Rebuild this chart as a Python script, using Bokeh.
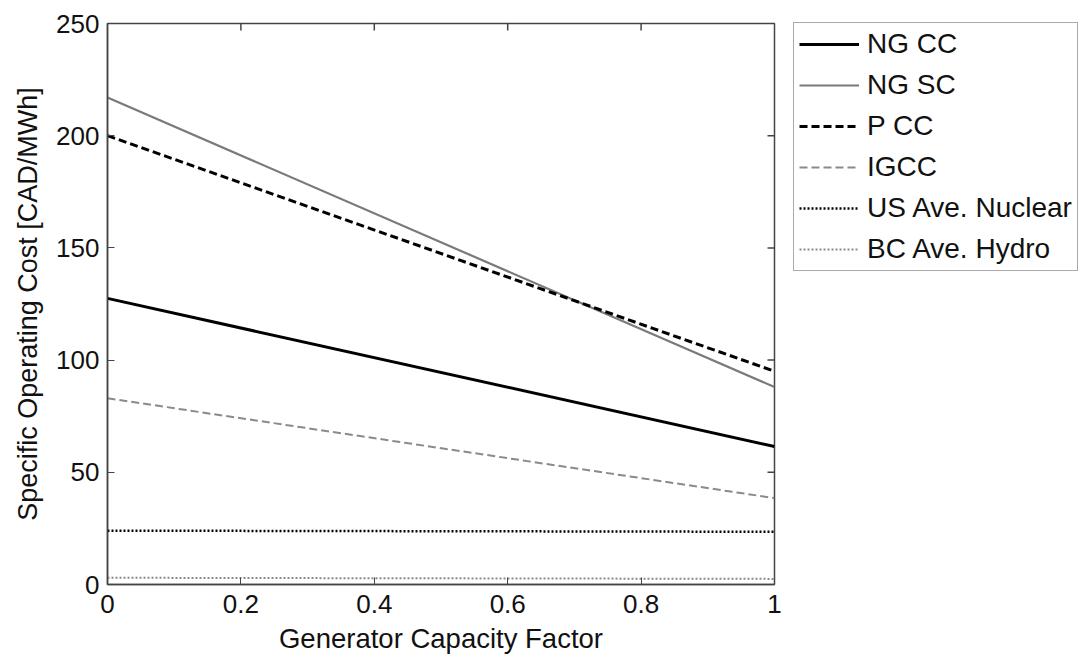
import math
from bokeh.plotting import figure
from bokeh.models import Legend, LegendItem, FixedTicker, Range1d
from bokeh.embed import file_html
from bokeh.resources import INLINE

# Data
capacity_factor = [0.0, 1.0]
ng_cc = [127.5, 61.5]
ng_sc = [217.0, 88.0]
p_cc = [200.0, 95.0]
igcc = [83.0, 38.5]
us_nuclear = [24.0, 23.5]
bc_hydro = [3.0, 2.5]

x_ticks = [0, 0.2, 0.4, 0.6, 0.8, 1.0]
y_ticks = [0, 50, 100, 150, 200, 250]
x_label = "Generator Capacity Factor"
y_label = "Specific Operating Cost [CAD/MWh]"

FONT = "Liberation Sans"
X_MIN, X_MAX = 0, 1
Y_MIN, Y_MAX = 0, 250

p = figure(width=1084, height=656, output_backend="svg", toolbar_location=None,
           x_range=Range1d(X_MIN, X_MAX), y_range=Range1d(Y_MIN, Y_MAX),
           min_border_left=107, min_border_right=0, min_border_top=23, min_border_bottom=72)
p.frame_width = 667
p.frame_height = 561
p.grid.visible = False
p.outline_line_color = "#444444"
p.outline_line_width = 1.5
p.background_fill_color = "white"
p.border_fill_color = "white"

r1 = p.line(capacity_factor, ng_cc, line_color="black", line_width=3)
r2 = p.line(capacity_factor, ng_sc, line_color="#7a7a7a", line_width=2.2)
r3 = p.line(capacity_factor, p_cc, line_color="black", line_width=3, line_dash="8 4")
r4 = p.line(capacity_factor, igcc, line_color="#8a8a8a", line_width=2, line_dash="8 4")
r5 = p.line(capacity_factor, us_nuclear, line_color="black", line_width=2.5, line_dash="2 2")
r6 = p.line(capacity_factor, bc_hydro, line_color="#8a8a8a", line_width=2, line_dash="2 2")

# inward ticks on top and right edges (half of each dash marker is clipped by the frame)
p.scatter([t for t in x_ticks[1:-1]], [Y_MAX] * (len(x_ticks) - 2), marker="dash",
          size=14, angle=math.pi / 2, line_color="#444444", line_width=1.5)
p.scatter([X_MAX] * (len(y_ticks) - 2), [t for t in y_ticks[1:-1]], marker="dash",
          size=14, line_color="#444444", line_width=1.5)

def style_axis(ax):
    ax.axis_line_color = "#444444"
    ax.axis_line_width = 1.5
    ax.major_tick_in = 7
    ax.major_tick_out = 0
    ax.minor_tick_in = 0
    ax.minor_tick_out = 0
    ax.major_tick_line_color = "#444444"
    ax.major_label_text_font = FONT
    ax.major_label_text_color = "#111111"
    ax.major_label_text_font_size = "26px"
    ax.axis_label_text_font = FONT
    ax.axis_label_text_font_style = "normal"
    ax.axis_label_text_color = "#111111"
    ax.axis_label_text_font_size = "27.5px"

xa = p.xaxis[0]
xa.ticker = FixedTicker(ticks=x_ticks)
xa.major_label_overrides = {0: "0", 1: "1", 0.2: "0.2", 0.4: "0.4", 0.6: "0.6", 0.8: "0.8"}
xa.axis_label = x_label
style_axis(xa)
xa.major_label_standoff = 10
xa.axis_label_standoff = 7

ya = p.yaxis[0]
ya.ticker = FixedTicker(ticks=y_ticks)
ya.axis_label = y_label
style_axis(ya)
ya.axis_label_text_font_size = "27px"
ya.major_label_standoff = 8
ya.axis_label_standoff = 10

legend = Legend(items=[
    LegendItem(label="NG CC", renderers=[r1]),
    LegendItem(label="NG SC", renderers=[r2]),
    LegendItem(label="P CC", renderers=[r3]),
    LegendItem(label="IGCC", renderers=[r4]),
    LegendItem(label="US Ave. Nuclear", renderers=[r5]),
    LegendItem(label="BC Ave. Hydro", renderers=[r6]),
], location=(19, 313))
legend.label_text_font = FONT
legend.label_text_font_size = "28px"
legend.label_text_color = "#111111"
legend.glyph_width = 60
legend.glyph_height = 30
legend.label_height = 30
legend.spacing = 9
legend.padding = 5
legend.margin = 0
legend.label_standoff = 8
legend.border_line_color = "#555555"
legend.border_line_width = 1.5
legend.background_fill_color = "white"
legend.background_fill_alpha = 1
p.add_layout(legend, "right")

open("out.html", "w").write(file_html(p, INLINE))
